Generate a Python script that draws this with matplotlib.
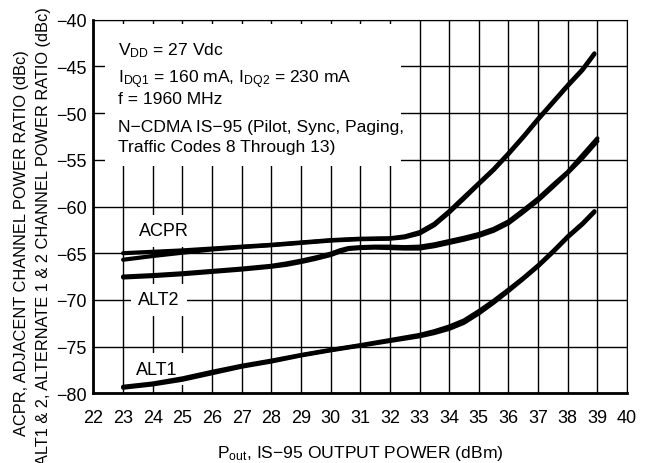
import matplotlib
matplotlib.use('Agg')
import matplotlib.pyplot as plt
from matplotlib.patches import Rectangle

# police type Helvetica
plt.rcParams['font.family'] = ['Liberation Sans Narrow', 'Liberation Sans', 'DejaVu Sans']
plt.rcParams['mathtext.fontset'] = 'custom'
plt.rcParams['mathtext.rm'] = 'Liberation Sans'
plt.rcParams['mathtext.it'] = 'Liberation Sans'
plt.rcParams['axes.unicode_minus'] = True

# donnees
acpr_x_a = [23, 24, 25, 26, 27, 28, 29, 30, 31, 32, 32.5, 33, 33.5, 34, 34.5, 35, 35.5, 36, 36.5, 37, 37.5, 38, 38.5, 38.9]
acpr_y_a = [-65.0, -64.85, -64.7, -64.5, -64.3, -64.1, -63.85, -63.6, -63.45, -63.4, -63.2, -62.75, -61.85, -60.5,
            -59.0, -57.5, -56.0, -54.3, -52.5, -50.6, -48.8, -47.0, -45.3, -43.6]
acpr_x_b = [23, 24, 25, 26, 27, 28, 29, 30, 31, 32, 32.5, 33, 33.5, 34, 34.5, 35, 35.5, 36, 36.5, 37, 37.5, 38, 38.5, 38.9]
acpr_y_b = [-65.7, -65.3, -64.95, -64.6, -64.35, -64.15, -63.9, -63.65, -63.5, -63.45, -63.3, -62.9, -62.0, -60.65,
            -59.15, -57.6, -56.1, -54.4, -52.6, -50.7, -48.9, -47.1, -45.4, -43.7]

alt2_x_a = [23, 24, 25, 26, 27, 28, 28.5, 29, 29.5, 30, 30.3, 30.6, 31, 31.5, 32, 32.5, 33, 33.5, 34, 34.5, 35,
            35.5, 36, 36.5, 37, 37.5, 38, 38.5, 39]
alt2_y_a = [-67.6, -67.45, -67.25, -67.0, -66.75, -66.45, -66.25, -65.95, -65.6, -65.2, -64.85, -64.55, -64.45,
            -64.4, -64.45, -64.5, -64.5, -64.25, -63.9, -63.55, -63.15, -62.6, -61.8, -60.6, -59.35, -57.9,
            -56.4, -54.8, -53.0]
alt2_x_b = [23, 24, 25, 26, 27, 28, 28.5, 29, 29.5, 30, 30.3, 30.6, 31, 31.5, 32, 32.5, 33, 33.5, 34, 34.5, 35,
            35.5, 36, 36.5, 37, 37.5, 38, 38.5, 39]
alt2_y_b = [-67.5, -67.35, -67.15, -66.9, -66.65, -66.35, -66.1, -65.8, -65.45, -65.05, -64.7, -64.45, -64.35,
            -64.3, -64.3, -64.35, -64.3, -64.05, -63.7, -63.35, -62.95, -62.4, -61.6, -60.4, -59.15, -57.7,
            -56.3, -54.5, -52.7]

alt1_x_a = [23, 24, 25, 26, 27, 28, 29, 30, 31, 32, 33, 33.5, 34, 34.5, 35, 35.5, 36, 36.5, 37, 37.5, 38, 38.5, 38.9]
alt1_y_a = [-79.4, -79.05, -78.55, -77.85, -77.15, -76.6, -75.95, -75.4, -74.9, -74.4, -73.9, -73.55, -73.1,
            -72.45, -71.45, -70.3, -69.05, -67.75, -66.4, -64.9, -63.3, -61.9, -60.6]
alt1_x_b = [23, 24, 25, 26, 27, 28, 29, 30, 31, 32, 33, 33.5, 34, 34.5, 35, 35.5, 36, 36.5, 37, 37.5, 38, 38.5, 38.9]
alt1_y_b = [-79.3, -78.95, -78.4, -77.7, -77.05, -76.5, -75.9, -75.35, -74.85, -74.3, -73.75, -73.35, -72.85,
            -72.2, -71.2, -70.1, -68.9, -67.65, -66.3, -64.8, -63.2, -61.8, -60.5]

x_ticks = list(range(22, 41))
y_ticks = [-80, -75, -70, -65, -60, -55, -50, -45, -40]

fig = plt.figure(figsize=(6.46, 4.64), dpi=100)
ax = fig.add_axes([0.1447, 0.1502, 0.8259, 0.8052])

ax.set_xlim(22, 40)
ax.set_ylim(-80, -40)
ax.set_xticks(x_ticks)
ax.set_yticks(y_ticks)
ax.tick_params(length=0, labelsize=13)
ax.tick_params(axis='x', pad=11)
ax.tick_params(axis='y', pad=5)
ax.set_axisbelow(True)
ax.grid(True, color='black', linewidth=1.0)

for s in ['left', 'bottom']:
    ax.spines[s].set_linewidth(2.0)
for s in ['top', 'right']:
    ax.spines[s].set_linewidth(0.8)

# courbes (deux traces par courbe)
for xs, ys in [(acpr_x_a, acpr_y_a), (acpr_x_b, acpr_y_b), (alt2_x_a, alt2_y_a),
               (alt2_x_b, alt2_y_b), (alt1_x_a, alt1_y_a), (alt1_x_b, alt1_y_b)]:
    ax.plot(xs, ys, color='black', linewidth=3.0, solid_capstyle='round', solid_joinstyle='round', zorder=3)

# cadre blanc des conditions
ax.add_patch(Rectangle((22.39, -55.7), 10.0, 15.25, facecolor='white', edgecolor='none', zorder=1))
cond = [r'V$_{\mathrm{DD}}$ = 27 Vdc',
        r'I$_{\mathrm{DQ1}}$ = 160 mA, I$_{\mathrm{DQ2}}$ = 230 mA',
        'f = 1960 MHz',
        'N\u2212CDMA IS\u221295 (Pilot, Sync, Paging,',
        'Traffic Codes 8 Through 13)']
ys_cond = [-43.68, -46.71, -48.93, -51.9, -54.04]
for t, yy in zip(cond, ys_cond):
    ax.text(22.83, yy, t, fontsize=12.6, va='baseline', ha='left', zorder=2)

lab_box = dict(boxstyle='square,pad=0.4', facecolor='white', edgecolor='none')
ax.text(24.36, -62.6, 'ACPR', fontsize=13, ha='center', va='center', bbox=lab_box, zorder=2)
ax.text(24.2, -70.0, 'ALT2', fontsize=13, ha='center', va='center', bbox=lab_box, zorder=2)
ax.text(24.13, -77.4, 'ALT1', fontsize=13, ha='center', va='center', bbox=lab_box, zorder=2)

# titres des axes
fig.text(0.034, 1 - 50 / 464, 'ACPR, ADJACENT CHANNEL POWER RATIO (dBc)', rotation=90,
         ha='center', va='top', fontsize=11.8)
fig.text(0.067, 1 - 7 / 464, 'ALT1 & 2, ALTERNATE 1 & 2 CHANNEL POWER RATIO (dBc)', rotation=90,
         ha='center', va='top', fontsize=11.8)
fig.text(0.557, 0.013, 'P$_{\\mathrm{out}}$, IS\u221295 OUTPUT POWER (dBm)', ha='center',
         va='baseline', fontsize=12.6)

fig.savefig('out.png', dpi=100)
